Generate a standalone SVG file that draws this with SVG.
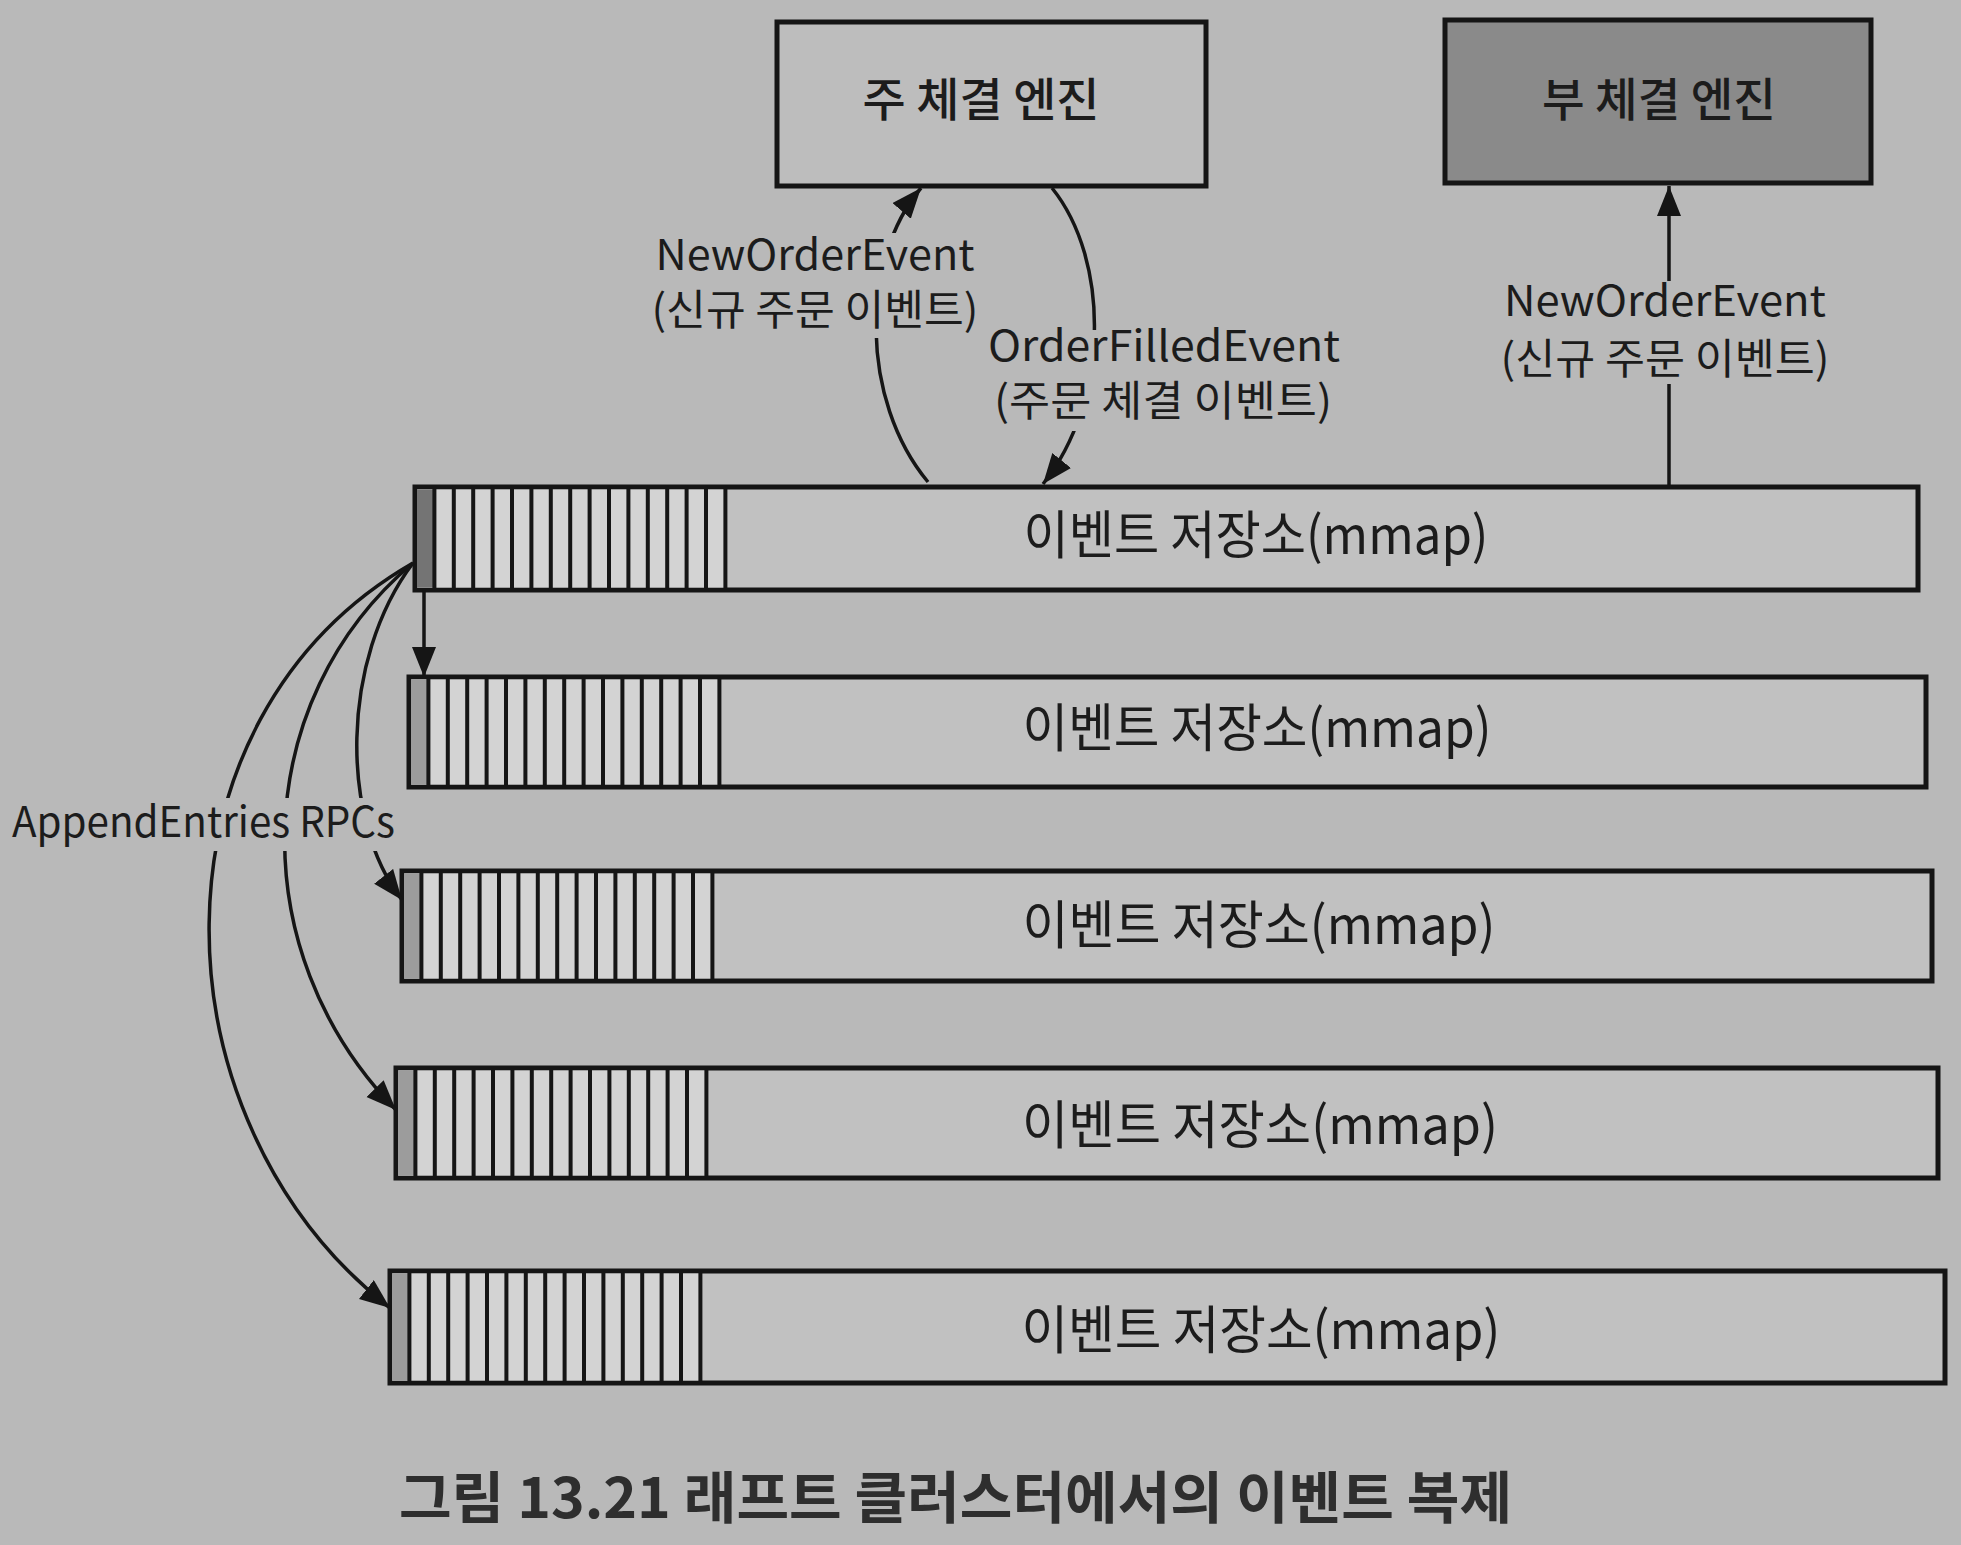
<svg xmlns="http://www.w3.org/2000/svg" width="1961" height="1545" viewBox="0 0 1961 1545">
<style>
text{font-family:"Noto Sans CJK KR","Noto Sans",sans-serif;fill:#1c1c1c}
.box{fill:#bdbdbd;stroke:#151515;stroke-width:5}
.sub{fill:#8a8a8a;stroke:#151515;stroke-width:5}
.store{fill:#c1c1c1;stroke:#151515;stroke-width:5}
.cellbg{fill:#d3d3d3}
.first{fill:#9c9c9c}
.lead{fill:#747474}
.bars{stroke:#151515;stroke-dasharray:4 15.4;fill:none}
.title{font-size:46px;font-weight:500}
.lbl{font-size:42px}
.st{font-size:52px}
.cap{font-size:56px;font-weight:bold;fill:#2e2e2e}
.conn{fill:none;stroke:#151515;stroke-width:3.5}
</style>
<defs>
<marker id="ah" markerUnits="userSpaceOnUse" markerWidth="32" markerHeight="26" refX="30" refY="12" orient="auto">
<path d="M0,0 L30,12 L0,24 z" fill="#151515"/>
</marker>
<mask id="gaps" maskUnits="userSpaceOnUse" x="0" y="0" width="1961" height="1545">
<rect x="0" y="0" width="1961" height="1545" fill="#fff"/>
<rect x="645" y="233" width="340" height="105" fill="#000"/>
<rect x="985" y="330" width="362" height="101" fill="#000"/>
<rect x="1495" y="281" width="340" height="103" fill="#000"/>
<rect x="5" y="798" width="395" height="53" fill="#000"/>
</mask>
</defs>
<rect x="0" y="0" width="1961" height="1545" fill="#b9b9b9"/>

<g id="main-engine">
<rect class="box" x="777" y="22" width="429" height="164"/>
<text class="title" x="981" y="116" text-anchor="middle" textLength="237" lengthAdjust="spacingAndGlyphs">주 체결 엔진</text>
</g>

<g id="sub-engine">
<rect class="sub" x="1445" y="20" width="426" height="163"/>
<text class="title" x="1659" y="116" text-anchor="middle" textLength="234" lengthAdjust="spacingAndGlyphs">부 체결 엔진</text>
</g>

<g id="store-1">
<rect class="store" x="415" y="487" width="1503" height="103"/>
<rect class="cellbg" x="417" y="489.5" width="308" height="98"/>
<rect class="lead" x="417" y="489.5" width="17.4" height="98"/>
<line class="bars" x1="432.4" y1="538.5" x2="727.4" y2="538.5" stroke-width="99"/>
<text class="st" x="1256" y="554" text-anchor="middle" textLength="465" lengthAdjust="spacingAndGlyphs">이벤트 저장소(mmap)</text>
</g>

<g id="store-2">
<rect class="store" x="409" y="677" width="1517" height="110"/>
<rect class="cellbg" x="411" y="679.5" width="308" height="105"/>
<rect class="first" x="411" y="679.5" width="17.4" height="105"/>
<line class="bars" x1="426.4" y1="732" x2="721.4" y2="732" stroke-width="106"/>
<text class="st" x="1257" y="747" text-anchor="middle" textLength="469" lengthAdjust="spacingAndGlyphs">이벤트 저장소(mmap)</text>
</g>

<g id="store-3">
<rect class="store" x="402" y="871" width="1530" height="110"/>
<rect class="cellbg" x="404" y="873.5" width="308" height="105"/>
<rect class="first" x="404" y="873.5" width="17.4" height="105"/>
<line class="bars" x1="419.4" y1="926" x2="714.4" y2="926" stroke-width="106"/>
<text class="st" x="1259" y="944" text-anchor="middle" textLength="473" lengthAdjust="spacingAndGlyphs">이벤트 저장소(mmap)</text>
</g>

<g id="store-4">
<rect class="store" x="396" y="1068" width="1542" height="110"/>
<rect class="cellbg" x="398" y="1070.5" width="308" height="105"/>
<rect class="first" x="398" y="1070.5" width="17.4" height="105"/>
<line class="bars" x1="413.4" y1="1123" x2="708.4" y2="1123" stroke-width="106"/>
<text class="st" x="1260" y="1144" text-anchor="middle" textLength="476" lengthAdjust="spacingAndGlyphs">이벤트 저장소(mmap)</text>
</g>

<g id="store-5">
<rect class="store" x="390" y="1271" width="1555" height="112"/>
<rect class="cellbg" x="392" y="1273.5" width="308" height="107"/>
<rect class="first" x="392" y="1273.5" width="17.4" height="107"/>
<line class="bars" x1="407.4" y1="1327" x2="702.4" y2="1327" stroke-width="108"/>
<text class="st" x="1261" y="1349" text-anchor="middle" textLength="479" lengthAdjust="spacingAndGlyphs">이벤트 저장소(mmap)</text>
</g>

<g id="connectors" mask="url(#gaps)">
<path class="conn" d="M928 482 C860 400 860 260 921 188" marker-end="url(#ah)"/>
<path class="conn" d="M1052 188 C1110 260 1110 400 1043 484" marker-end="url(#ah)"/>
<path class="conn" d="M1669 485 L1669 186" marker-end="url(#ah)"/>
<path class="conn" d="M424 590 L424 677" marker-end="url(#ah)"/>
<path class="conn" d="M413 563 C340 660 340 820 402 900" marker-end="url(#ah)"/>
<path class="conn" d="M413 563 C250 700 240 950 396 1110" marker-end="url(#ah)"/>
<path class="conn" d="M413 563 C140 720 150 1120 390 1308" marker-end="url(#ah)"/>
</g>

<g id="labels">
<text class="lbl" x="815" y="270" text-anchor="middle" textLength="319" lengthAdjust="spacingAndGlyphs">NewOrderEvent</text>
<text class="lbl" x="815" y="325" text-anchor="middle" textLength="327" lengthAdjust="spacingAndGlyphs">(신규 주문 이벤트)</text>
<text class="lbl" x="1164" y="361" text-anchor="middle" textLength="352" lengthAdjust="spacingAndGlyphs">OrderFilledEvent</text>
<text class="lbl" x="1163" y="416" text-anchor="middle" textLength="338" lengthAdjust="spacingAndGlyphs">(주문 체결 이벤트)</text>
<text class="lbl" x="1665" y="316" text-anchor="middle" textLength="322" lengthAdjust="spacingAndGlyphs">NewOrderEvent</text>
<text class="lbl" x="1665" y="374" text-anchor="middle" textLength="329" lengthAdjust="spacingAndGlyphs">(신규 주문 이벤트)</text>
<text class="lbl" x="12" y="837" textLength="383" lengthAdjust="spacingAndGlyphs">AppendEntries RPCs</text>
</g>

<text class="cap" x="399" y="1518" textLength="1113" lengthAdjust="spacingAndGlyphs">그림 13.21 래프트 클러스터에서의 이벤트 복제</text>
</svg>
